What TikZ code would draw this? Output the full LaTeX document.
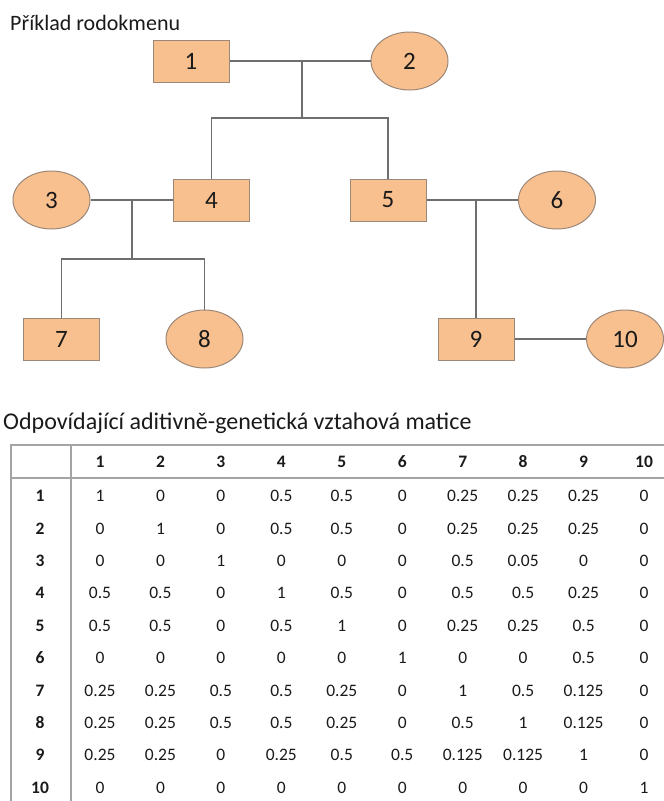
\documentclass[tikz,border=0pt]{standalone}
\usepackage{fontspec}
\setmainfont{Carlito}
\usetikzlibrary{shapes.geometric}

\definecolor{nodefill}{HTML}{F9C08F}
\definecolor{nodeedge}{HTML}{9C8878}
\definecolor{linkgray}{HTML}{6E6E6E}
\definecolor{rulegray}{HTML}{A4A4A4}
\definecolor{txt}{HTML}{1A1A1A}

\tikzset{
  male/.style={rectangle, draw=nodeedge, fill=nodefill, line width=1pt,
    minimum width=76pt, minimum height=42pt, inner sep=0pt,
    font=\fontsize{25}{28}\selectfont, text=txt},
  female/.style={ellipse, draw=nodeedge, fill=nodefill, line width=1pt,
    minimum width=77pt, minimum height=58pt, inner sep=0pt,
    font=\fontsize{25}{28}\selectfont, text=txt},
  link/.style={draw=linkgray, line width=1.6pt},
  heading/.style={anchor=base west, inner sep=0pt, text=txt},
  tablerule/.style={draw=rulegray, line width=2pt},
  cell/.style={inner sep=0pt, text=txt, font=\fontsize{17.5}{20}\selectfont},
  headcell/.style={cell, font=\fontsize{17.5}{20}\selectfont\bfseries}
}

\begin{document}
\begin{tikzpicture}[x=1pt, y=-1pt]
\useasboundingbox (0,0) rectangle (664,801);

% pedigree
\node[heading, font=\fontsize{22}{26}\selectfont] (t1) at (10,30) {Příklad rodokmenu};

\node[male]   (n1)  at (191,61)  {1};
\node[female] (n2)  at (409.5,61) {2};
\node[female] (n3)  at (51.5,200) {3};
\node[male]   (n4)  at (211.5,200) {4};
\node[male]   (n5)  at (388,200) {5};
\node[female] (n6)  at (557,200) {6};
\node[male]   (n7)  at (61.5,339) {7};
\node[female] (n8)  at (204.5,339) {8};
\node[male]   (n9)  at (476,339) {9};
\node[female] (n10) at (625,339) {10};

\coordinate (m12) at (302,61);
\coordinate (s12) at (302,118);
\coordinate (m34) at (132,200);
\coordinate (s34) at (132,259);
\coordinate (m56) at (476,200);

\draw[link] (n1.east) -- (n2.west);
\draw[link] (m12) -- (s12);
\draw[link] (n4.north) |- (s12) -| (n5.north);
\draw[link] (n3.east) -- (n4.west);
\draw[link] (m34) -- (s34);
\draw[link] (n7.north) |- (s34) -| (n8.north);
\draw[link] (n5.east) -- (n6.west);
\draw[link] (m56) -- (n9.north);
\draw[link] (n9.east) -- (n10.west);

% relationship matrix
\node[heading, font=\fontsize{24}{28}\selectfont] (t2) at (3,429) {Odpovídající aditivně-genetická vztahová matice};

\coordinate (tl) at (11,445);
\coordinate (tr) at (664,445);
\coordinate (hl) at (11,478);
\coordinate (hr) at (664,478);
\coordinate (ct) at (71,445);
\coordinate (cb) at (71,801);
\coordinate (bl) at (11,801);

\draw[tablerule] (bl) -- (tl) -- (tr);
\draw[tablerule] (hl) -- (hr);
\draw[tablerule] (ct) -- (cb);

\foreach \c in {1,...,10}
  \node[headcell] (h\c) at ({100+60.45*(\c-1)},462) {\c};
\foreach \r in {1,...,10}
  \node[headcell] (r\r) at (40,{496+32.4*(\r-1)}) {\r};

\foreach \row [count=\r] in {
  {1,0,0,0.5,0.5,0,0.25,0.25,0.25,0},
  {0,1,0,0.5,0.5,0,0.25,0.25,0.25,0},
  {0,0,1,0,0,0,0.5,0.05,0,0},
  {0.5,0.5,0,1,0.5,0,0.5,0.5,0.25,0},
  {0.5,0.5,0,0.5,1,0,0.25,0.25,0.5,0},
  {0,0,0,0,0,1,0,0,0.5,0},
  {0.25,0.25,0.5,0.5,0.25,0,1,0.5,0.125,0},
  {0.25,0.25,0.5,0.5,0.25,0,0.5,1,0.125,0},
  {0.25,0.25,0,0.25,0.5,0.5,0.125,0.125,1,0},
  {0,0,0,0,0,0,0,0,0,1}}
  \foreach \v [count=\c] in \row
    \node[cell] (v\r-\c) at ({100+60.45*(\c-1)},{496+32.4*(\r-1)}) {\v};
\end{tikzpicture}
\end{document}
